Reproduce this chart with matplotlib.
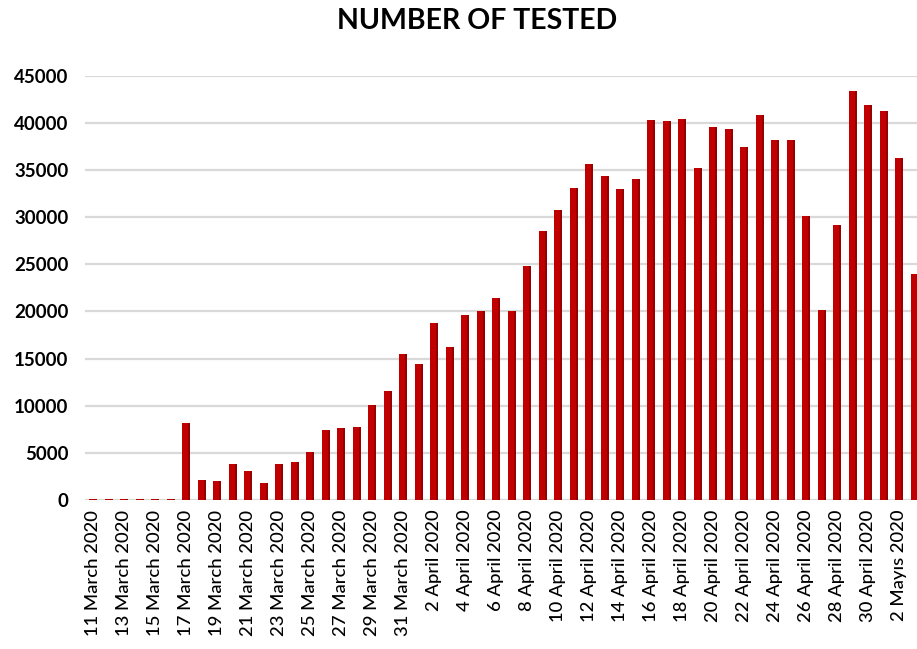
import numpy as np
import matplotlib.pyplot as plt

plt.rcParams['font.family'] = ['Lato', 'DejaVu Sans']

days = ["11 March 2020", "12 March 2020", "13 March 2020", "14 March 2020", "15 March 2020",
        "16 March 2020", "17 March 2020", "18 March 2020", "19 March 2020", "20 March 2020",
        "21 March 2020", "22 March 2020", "23 March 2020", "24 March 2020", "25 March 2020",
        "26 March 2020", "27 March 2020", "28 March 2020", "29 March 2020", "30 March 2020",
        "31 March 2020"] + ["%d April 2020" % d for d in range(1, 31)] + \
       ["1 Mayıs 2020", "2 Mayıs 2020", "3 Mayıs 2020"]

tested = [150, 150, 150, 150, 150, 150, 8130, 2100, 2050, 3790,
          3070, 1840, 3790, 4060, 5120, 7420, 7600, 7780, 10070, 11600,
          15450, 14420, 18740, 16190, 19620, 20080, 21390, 20040, 24810, 28520,
          30750, 33120, 35630, 34360, 32980, 34000, 40300, 40150, 40400, 35240,
          39590, 39310, 37400, 40830, 38210, 38180, 30120, 20150, 29160, 43370,
          41850, 41280, 36230, 23930]

x = np.arange(len(tested))

fig = plt.figure(figsize=(9.17, 6.49), dpi=100)
ax = fig.add_axes([85/917, 149/649, 1 - 85/917, (500 - 75.7)/649])

ax.bar(x, tested, width=0.52, color='#C00000', zorder=3)
# darker right side for the 3D look
ax.bar(x + 0.18, tested, width=0.14, color='#960000', zorder=4)

ax.set_xlim(-0.54, 53.14)
ax.set_ylim(0, 45000)
ax.set_yticks(np.arange(0, 45001, 5000))
ax.set_yticklabels([str(v) for v in range(0, 45001, 5000)], fontsize=13.5, fontweight='bold')
ax.set_xticks(x[::2])
ax.set_xticklabels(days[::2], rotation=90, fontsize=13.3, fontweight='medium')
ax.tick_params(length=0, pad=7)
ax.tick_params(axis='y', pad=12)
ax.grid(axis='y', color='#D9D9D9', linewidth=1.6, zorder=0)
for s in ax.spines.values():
    s.set_visible(False)

fig.text(0.52, 0.968, "NUMBER OF TESTED", ha='center', va='center',
         fontsize=20.5, fontweight='bold')

fig.savefig("out.png", dpi=100)
